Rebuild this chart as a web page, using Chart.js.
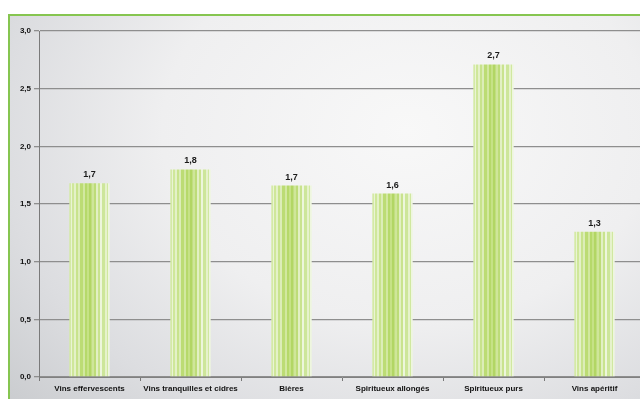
<!DOCTYPE html>
<html>
<head>
<meta charset="utf-8">
<script src="https://cdn.jsdelivr.net/npm/chart.js@4/dist/chart.umd.min.js"></script>
<style>
  html, body { margin: 0; padding: 0; background: #fff; overflow: hidden; }
  #cadre {
    position: absolute; left: 8px; top: 14px; width: 640px; height: 385px;
    border-left: 2px solid #86c550; border-top: 2px solid #86c550;
    background: radial-gradient(ellipse 85% 110% at 62% 30%, #f8f8f8 0%, #efeff0 45%, #dcdde0 75%, #c8cacd 100%);
  }
</style>
</head>
<body>
<div id="cadre"><canvas id="graphique"></canvas></div>
<script>
// Catégories et valeurs (litres)
const categories = ["Vins effervescents", "Vins tranquilles et cidres", "Bières", "Spiritueux allongés", "Spiritueux purs", "Vins apéritif"];
const valeurs = [1.68, 1.80, 1.66, 1.59, 2.71, 1.26];
const graduations = [0, 0.5, 1, 1.5, 2, 2.5, 3];

const virgule = (v) => v.toFixed(1).replace(".", ",");

// Rayures verticales des barres (position relative, couleur)
const rayures = [
  [0.00, "#d4eaa6"], [0.04, "#eaf4d4"], [0.07, "#cfe79a"], [0.12, "#e4f1c8"],
  [0.16, "#c8e38c"], [0.22, "#dcedb8"], [0.27, "#bcdc74"], [0.33, "#d2e8a0"],
  [0.38, "#b6d96a"], [0.44, "#c6e286"], [0.50, "#b2d664"], [0.55, "#cfe69a"],
  [0.60, "#bddc78"], [0.66, "#e2f0c4"], [0.71, "#c9e38e"], [0.77, "#edf6dc"],
  [0.82, "#cde69a"], [0.88, "#e6f2cc"], [0.93, "#d0e8a0"], [0.97, "#eef6de"]
];

function remplissage(ctx) {
  const chart = ctx.chart;
  const x = chart.scales.x;
  if (!x || ctx.dataIndex === undefined) return "#cfe69a";
  const centre = x.getPixelForValue(ctx.dataIndex);
  const largeur = (x.width / categories.length) * 0.4;
  if (!isFinite(centre) || !isFinite(largeur) || largeur <= 0) return "#cfe69a";
  const g = chart.ctx.createLinearGradient(centre - largeur / 2, 0, centre + largeur / 2, 0);
  for (let i = 0; i < rayures.length; i++) {
    const debut = rayures[i][0];
    const fin = i + 1 < rayures.length ? rayures[i + 1][0] : 1;
    g.addColorStop(debut, rayures[i][1]);
    g.addColorStop(Math.max(debut, fin - 0.001), rayures[i][1]);
  }
  return g;
}

// Valeurs affichées au-dessus des barres
const etiquettes = {
  id: "etiquettes",
  afterDatasetsDraw(chart) {
    const c = chart.ctx;
    const meta = chart.getDatasetMeta(0);
    c.save();
    c.font = "bold 9px 'Liberation Sans', Arial, sans-serif";
    c.fillStyle = "#1a1a1a";
    c.textAlign = "center";
    c.textBaseline = "bottom";
    meta.data.forEach((barre, i) => {
      c.fillText(virgule(valeurs[i]), barre.x, barre.y - 4);
    });
    c.restore();
  }
};

const graphique = new Chart(document.getElementById("graphique"), {
  type: "bar",
  data: {
    labels: categories,
    datasets: [{
      data: valeurs,
      backgroundColor: remplissage,
      borderWidth: 0,
      barPercentage: 0.4,
      categoryPercentage: 1
    }]
  },
  options: {
    responsive: true,
    maintainAspectRatio: false,
    animation: false,
    layout: { padding: { top: 15, right: 5, left: 0, bottom: 0 } },
    plugins: { legend: { display: false }, tooltip: { enabled: false } },
    scales: {
      x: {
        offset: true,
        grid: { offset: true, drawOnChartArea: false, drawTicks: true, tickLength: 4, color: "#777", lineWidth: 1 },
        border: { color: "#808080", width: 1 },
        ticks: {
          color: "#111",
          padding: 3,
          maxRotation: 0,
          autoSkip: false,
          font: { family: "'Liberation Sans', Arial, sans-serif", size: 8, weight: "bold" }
        },
        afterFit(scale) { scale.height = 24; }
      },
      y: {
        min: 0,
        max: 3,
        afterBuildTicks(scale) { scale.ticks = graduations.map((v) => ({ value: v })); },
        grid: { color: "#8e8e8e", lineWidth: 1.3, tickLength: 5 },
        border: { color: "#7a7a7a", width: 1 },
        ticks: {
          color: "#111",
          padding: 3,
          callback: (v) => virgule(v),
          font: { family: "'Liberation Sans', Arial, sans-serif", size: 8, weight: "bold" }
        },
        afterFit(scale) { scale.width = 29; }
      }
    }
  },
  plugins: [etiquettes]
});
// second passage pour que les dégradés utilisent l'échelle calculée
graphique.update();
</script>
</body>
</html>
